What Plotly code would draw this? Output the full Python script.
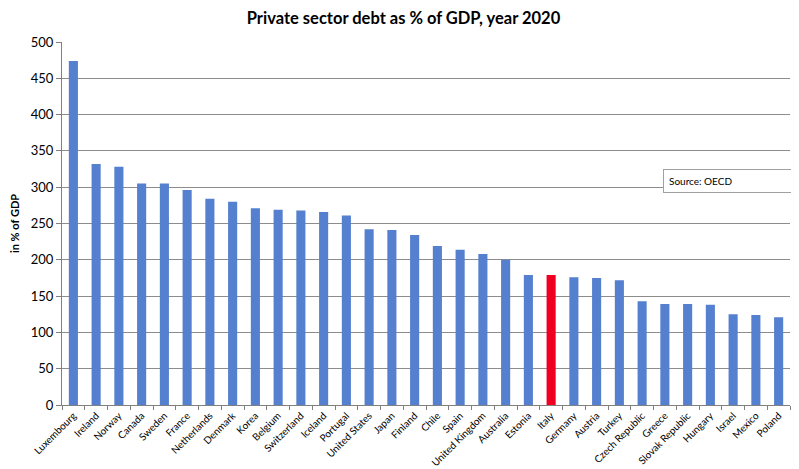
import plotly.graph_objects as go

countries = ["Luxembourg", "Ireland", "Norway", "Canada", "Sweden", "France", "Netherlands",
             "Denmark", "Korea", "Belgium", "Switzerland", "Iceland", "Portugal", "United States",
             "Japan", "Finland", "Chile", "Spain", "United Kingdom", "Australia", "Estonia", "Italy",
             "Germany", "Austria", "Turkey", "Czech Republic", "Greece", "Slovak Republic",
             "Hungary", "Israel", "Mexico", "Poland"]
debt = [474, 332, 328, 305, 305, 296, 284, 280, 271, 269, 268, 266, 261, 242, 241, 234,
        219, 214, 208, 200, 179, 179, 176, 175, 172, 143, 139, 139, 138, 125, 124, 121]

highlight = "Italy"
blue = "#5580D0"
red = "#F00020"
colors = [red if c == highlight else blue for c in countries]

fig = go.Figure(go.Bar(x=countries, y=debt, marker=dict(color=colors, line=dict(width=0)),
                       width=0.4))

fig.update_layout(
    width=791, height=461,
    margin=dict(l=54, r=9, t=34, b=64),
    paper_bgcolor="white", plot_bgcolor="white",
    font=dict(family="Lato, Liberation Sans, sans-serif", color="black"),
    title=dict(text="<b>Private sector debt as % of GDP, year 2020</b>", x=0.5, xanchor="center",
               y=0.978, yanchor="middle", font=dict(size=16.5)),
    showlegend=False,
    xaxis=dict(tickangle=-45, tickfont=dict(size=10), showline=True, linecolor="#808080",
               ticks="outside", tickson="boundaries", ticklen=4, tickcolor="#808080",
               showgrid=False, range=[-0.5, len(countries) - 0.5], automargin=False),
    yaxis=dict(range=[0, 500], dtick=50, tickfont=dict(size=13), showline=True,
               linecolor="#808080", ticks="outside", ticklen=5, tickcolor="#808080",
               showgrid=True, gridcolor="#8C8C8C", gridwidth=1, zeroline=False,
               automargin=False,
               title=dict(text="<b>in % of GDP</b>", font=dict(size=11), standoff=9)),
    annotations=[dict(text="Source: OECD", xref="paper", yref="paper", x=0.8255, y=0.617,
                      xanchor="left", yanchor="middle", showarrow=False,
                      font=dict(size=10), bgcolor="white", bordercolor="#A0A0A0",
                      borderwidth=1, borderpad=5, width=118, height=12, align="left")],
)

fig.write_html("out.html")
